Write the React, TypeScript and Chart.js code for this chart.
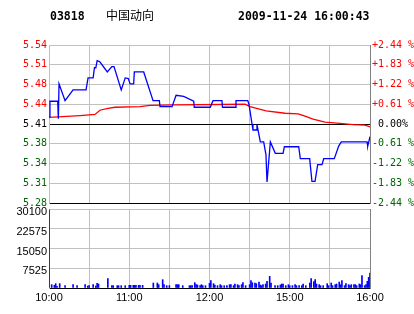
import React, { useEffect, useRef } from 'react';
import { Chart, registerables } from 'chart.js';

Chart.register(...registerables);

// ---------- data ----------
const stockCode = '03818';
const stockName = '中国动向';
const timestamp = '2009-11-24 16:00:43';
const prevClose = 5.41;

const pctLimit = 2.44;
const pctStep = 0.61;
// labels, top -> bottom
const priceTickLabels = ['5.54', '5.51', '5.48', '5.44', '5.41', '5.38', '5.34', '5.31', '5.28'];
const pctTickLabels = ['+2.44 %', '+1.83 %', '+1.22 %', '+0.61 %', ' 0.00%', '-0.61 %', '-1.22 %', '-1.83 %', '-2.44 %'];

const volMax = 30100;
const volStep = 7525;
// labels, top -> bottom
const volTickLabels = ['30100', '22575', '15050', '7525', ''];

// minutes of trading since 10:00 (lunch break removed)
const minuteMax = 240;
const gridStep = 30;
const timeTickMinutes = [0, 60, 120, 180, 240];
const timeTickLabels = ['10:00', '11:00', '12:00', '15:00', '16:00'];

const priceMinutes = [0, 0.7, 6.5, 7, 7.5, 12, 18, 27.7, 29.2, 33, 34, 35, 36, 38, 43.6, 47, 48.6, 54, 57, 59.3, 60.6, 63.3, 63.8, 70.8, 77.8, 82.5, 83, 92, 95, 100.7, 108.2, 108.6, 120.6, 122.6, 129.3, 129.7, 139.3, 139.8, 148.6, 149.5, 151.8, 152.5, 154.8, 155.5, 158, 160.5, 162.2, 163, 165.5, 169.2, 175, 176, 186.7, 187.9, 194.9, 196.6, 198.9, 200.9, 204.1, 205.4, 213.3, 216.6, 218.5, 237.8, 238.3, 240];
const prices = [5.422, 5.448, 5.448, 5.419, 5.477, 5.449, 5.467, 5.467, 5.487, 5.487, 5.504, 5.504, 5.516, 5.514, 5.497, 5.506, 5.506, 5.467, 5.487, 5.486, 5.477, 5.477, 5.497, 5.497, 5.449, 5.449, 5.439, 5.439, 5.458, 5.456, 5.448, 5.438, 5.438, 5.449, 5.449, 5.438, 5.438, 5.449, 5.449, 5.443, 5.41, 5.4, 5.4, 5.409, 5.38, 5.38, 5.359, 5.313, 5.38, 5.361, 5.361, 5.372, 5.372, 5.352, 5.352, 5.314, 5.314, 5.342, 5.342, 5.352, 5.352, 5.373, 5.38, 5.38, 5.373, 5.389];

const avgMinutes = [0, 23.2, 34.4, 38.1, 44.1, 49.3, 68, 75.5, 94.2, 146.5, 150.3, 162.3, 176.5, 186.2, 191.4, 197.4, 206.4, 217.6, 227.3, 236.3, 240];
const avgPrices = [5.421, 5.424, 5.426, 5.433, 5.436, 5.438, 5.439, 5.441, 5.442, 5.443, 5.439, 5.432, 5.428, 5.427, 5.423, 5.418, 5.413, 5.411, 5.409, 5.408, 5.405];

const volMinutes = [0, 2, 4, 5, 6, 8, 12, 18, 21, 27, 29, 30, 33, 35, 36, 37, 44, 47, 48, 51, 52, 54, 57, 60, 61, 63, 64, 65, 67, 68, 70, 78, 81, 82, 85, 86, 88, 90, 95, 96, 97, 100, 105, 106, 107, 109, 110, 111, 113, 114, 115, 117, 120, 121, 123, 124, 126, 128, 129, 131, 133, 135, 136, 138, 139, 141, 142, 144, 145, 147, 150, 151, 152, 154, 155, 157, 158, 159, 160, 162, 163, 165, 166, 169, 171, 173, 174, 175, 177, 179, 180, 182, 184, 185, 187, 189, 190, 192, 195, 196, 198, 199, 200, 202, 203, 205, 208, 209, 211, 212, 214, 215, 217, 218, 219, 221, 222, 224, 225, 226, 228, 229, 230, 232, 233, 234, 236, 237, 238, 239, 240];
const volumes = [29800, 1270, 1010, 1650, 630, 1650, 890, 1270, 890, 1270, 760, 890, 1270, 760, 1770, 1520, 3550, 890, 890, 890, 890, 890, 890, 1010, 1010, 1010, 1010, 1010, 1010, 1010, 1010, 1900, 1900, 1270, 3170, 1270, 890, 890, 1270, 1270, 1270, 890, 890, 890, 890, 2030, 1270, 1140, 890, 1270, 890, 890, 1770, 2790, 1650, 1140, 890, 1270, 890, 890, 890, 1270, 1270, 890, 1520, 1270, 890, 1270, 2030, 890, 1270, 2790, 2030, 1900, 1650, 2280, 1140, 890, 1270, 1520, 2530, 4430, 1900, 890, 890, 1140, 1520, 1520, 890, 1270, 890, 890, 1270, 890, 890, 890, 1520, 890, 1900, 3550, 2410, 3170, 1520, 1270, 890, 890, 1650, 890, 1900, 890, 1270, 1520, 2280, 1270, 2790, 890, 1650, 1270, 890, 1270, 1270, 1270, 890, 1520, 1270, 4690, 890, 1270, 2530, 4050, 5700];

// ---------- styles ----------
const RED = '#ff0000';
const GREEN = '#006400';
const GRID = '#c0c0c0';
const FRAME = '#808080';
const MONO = "'DejaVu Sans Mono', monospace";
const SANS = "'Liberation Sans', Arial, sans-serif";

const toPct = (p: number) => (p / prevClose - 1) * 100;
const nPrice = priceTickLabels.length;
const topIdx = (i: number) => nPrice - 1 - i; // tick index (from bottom) -> label index (from top)
const labelColor = (i: number) => {
  const t = topIdx(i);
  return t < 4 ? RED : t === 4 ? '#000' : GREEN;
};

const fixWidth = (w: number) => (scale: any) => {
  scale.width = w;
};
const fixHeight = (h: number) => (scale: any) => {
  scale.height = h;
};
const xGridColor = (ctx: any) => (ctx.tick && Math.abs(ctx.tick.value - minuteMax) < 1e-6 ? FRAME : GRID);

const titlePlugin = {
  id: 'titleText',
  afterDraw(chart: any) {
    const c = chart.ctx;
    c.save();
    c.fillStyle = '#000';
    c.font = `bold 11.5px ${MONO}`;
    c.textBaseline = 'alphabetic';
    c.textAlign = 'left';
    c.fillText(stockCode, 50, 20);
    c.fillText(timestamp, 238, 20);
    c.font = "12px 'Noto Sans CJK SC', sans-serif";
    c.textBaseline = 'middle';
    c.fillText(stockName, 106, 15.5);
    c.restore();
  },
};

export default function App() {
  const priceRef = useRef<HTMLCanvasElement>(null);
  const volRef = useRef<HTMLCanvasElement>(null);

  useEffect(() => {
    const priceChart = new Chart(priceRef.current as HTMLCanvasElement, {
      type: 'line',
      data: {
        datasets: [
          {
            label: 'price',
            data: priceMinutes.map((m, i) => ({ x: m, y: toPct(prices[i]) })),
            borderColor: '#0000ff',
            borderWidth: 1.3,
            pointRadius: 0,
            tension: 0,
            yAxisID: 'yL',
          },
          {
            label: 'avg',
            data: avgMinutes.map((m, i) => ({ x: m, y: toPct(avgPrices[i]) })),
            borderColor: RED,
            borderWidth: 1.3,
            pointRadius: 0,
            tension: 0,
            yAxisID: 'yL',
          },
        ],
      },
      options: {
        responsive: false,
        animation: false,
        events: [],
        layout: { padding: { top: 45, bottom: 0, left: 0, right: 0 } },
        plugins: { legend: { display: false }, tooltip: { enabled: false }, title: { display: false } },
        scales: {
          x: {
            type: 'linear',
            min: 0,
            max: minuteMax,
            afterFit: fixHeight(8),
            ticks: { display: false, stepSize: gridStep },
            grid: { drawTicks: false, color: xGridColor },
            border: { display: false },
          },
          yL: {
            type: 'linear',
            position: 'left',
            min: -pctLimit,
            max: pctLimit,
            afterFit: fixWidth(49),
            grid: {
              drawTicks: false,
              color: (ctx: any) => (ctx.index === 0 || topIdx(ctx.index) === 4 ? '#000' : GRID),
            },
            border: { display: true, color: GRID },
            ticks: {
              stepSize: pctStep,
              autoSkip: false,
              padding: 2,
              font: { family: MONO, size: 10 },
              color: (ctx: any) => labelColor(ctx.index),
              callback: (_v: any, i: number) => priceTickLabels[topIdx(i)],
            },
          },
          yR: {
            type: 'linear',
            position: 'right',
            min: -pctLimit,
            max: pctLimit,
            afterFit: fixWidth(44),
            grid: { display: false, drawTicks: false },
            border: { display: true, color: FRAME },
            ticks: {
              stepSize: pctStep,
              autoSkip: false,
              padding: 2,
              font: { family: MONO, size: 10 },
              color: (ctx: any) => labelColor(ctx.index),
              callback: (_v: any, i: number) => pctTickLabels[topIdx(i)],
            },
          },
        } as any,
      },
      plugins: [titlePlugin],
    });

    const volChart = new Chart(volRef.current as HTMLCanvasElement, {
      type: 'bar',
      data: {
        datasets: [
          {
            label: 'volume',
            data: volMinutes.map((m, i) => ({ x: m, y: volumes[i] })),
            backgroundColor: '#0000ff',
            borderWidth: 0,
            barThickness: 1,
            yAxisID: 'yV',
          },
        ],
      },
      options: {
        responsive: false,
        animation: false,
        events: [],
        layout: { padding: { top: 9, bottom: 0, left: 0, right: 0 } },
        plugins: { legend: { display: false }, tooltip: { enabled: false } },
        scales: {
          x: {
            type: 'linear',
            min: 0,
            max: minuteMax,
            offset: false,
            afterFit: fixHeight(26),
            grid: { drawTicks: false, offset: false, color: xGridColor },
            border: { display: false },
            ticks: {
              stepSize: gridStep,
              autoSkip: false,
              maxRotation: 0,
              minRotation: 0,
              padding: 3,
              color: '#000',
              font: { family: SANS, size: 11 },
              callback: (v: any) => {
                const i = timeTickMinutes.indexOf(Math.round(Number(v)));
                return i >= 0 ? timeTickLabels[i] : '';
              },
            },
          },
          yV: {
            type: 'linear',
            position: 'left',
            min: 0,
            max: volMax,
            afterFit: fixWidth(49),
            grid: {
              drawTicks: false,
              color: (ctx: any) => (ctx.index === 0 ? '#000' : GRID),
            },
            border: { display: true, color: GRID },
            ticks: {
              stepSize: volStep,
              padding: 2,
              autoSkip: false,
              labelOffset: 3,
              color: '#000',
              font: { family: SANS, size: 11 },
              callback: (_v: any, i: number, ticks: any[]) => volTickLabels[ticks.length - 1 - i],
            },
          },
          yVR: {
            type: 'linear',
            position: 'right',
            min: 0,
            max: volMax,
            afterFit: fixWidth(44),
            grid: { display: false, drawTicks: false },
            border: { display: true, color: FRAME },
            ticks: { display: false },
          },
        } as any,
      },
    });

    return () => {
      priceChart.destroy();
      volChart.destroy();
    };
  }, []);

  return (
    <div style={{ position: 'absolute', left: 0, top: 0, width: 414, height: 314, background: '#fff' }}>
      <canvas ref={priceRef} width={414} height={211} style={{ position: 'absolute', left: 0, top: 0, display: 'block' }} />
      <canvas ref={volRef} width={414} height={114} style={{ position: 'absolute', left: 0, top: 200, display: 'block' }} />
    </div>
  );
}
